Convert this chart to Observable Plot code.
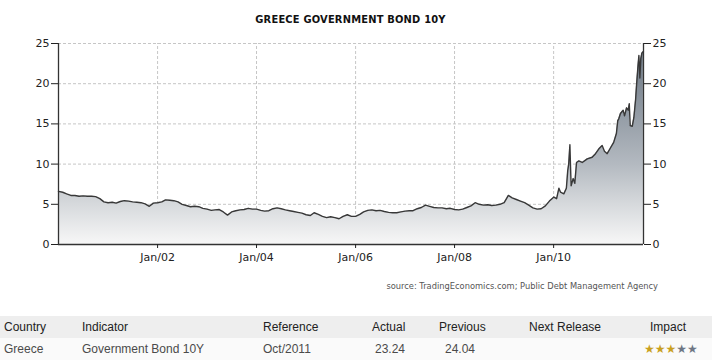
<!DOCTYPE html>
<html><head><meta charset="utf-8">
<script src="https://cdn.jsdelivr.net/npm/d3@7"></script>
<script src="https://cdn.jsdelivr.net/npm/@observablehq/plot@0.6"></script>
<style>
body{margin:0;background:#fff;}
#wrap{position:relative;width:712px;height:360px;overflow:hidden;background:#fff;}
#title{position:absolute;left:58px;width:585px;top:13px;height:13px;font:bold 11px "DejaVu Sans Condensed","DejaVu Sans",sans-serif;line-height:13px;text-align:center;color:#111;letter-spacing:0.2px;}
#chart{position:absolute;left:0;top:30px;}
#source{position:absolute;right:54px;top:279px;font:8.3px "DejaVu Sans",sans-serif;line-height:14px;color:#555;white-space:nowrap;}
.row{position:absolute;left:0;width:712px;height:22px;font:12px "Liberation Sans",Arial,sans-serif;line-height:22px;}
.row span{position:absolute;top:0;white-space:nowrap;}
.hdr{top:316px;background:#eeeeee;color:#222;}
.dat{top:338px;background:#fafafa;color:#4a4a4a;}
</style></head>
<body>
<div id="wrap">
  <div id="title"></div>
  <div id="chart"></div>
  <div id="source"></div>
  <div class="row hdr" id="hdr"></div>
  <div class="row dat" id="dat"></div>
</div>
<script>
// ---- data ----
const chartTitle = "GREECE GOVERNMENT BOND 10Y";
const sourceText = "source: TradingEconomics.com; Public Debt Management Agency";

const dates = [
  "2000-01-01","2000-02-01","2000-03-01","2000-04-01","2000-05-01","2000-06-01","2000-07-01","2000-08-01","2000-09-01","2000-10-01","2000-11-01","2000-12-01",
  "2001-01-01","2001-02-01","2001-03-01","2001-04-01","2001-05-01","2001-06-01","2001-07-01","2001-08-01","2001-09-01","2001-10-01","2001-11-01","2001-12-01",
  "2002-01-01","2002-02-01","2002-03-01","2002-04-01","2002-05-01","2002-06-01","2002-07-01","2002-08-01","2002-09-01","2002-10-01","2002-11-01","2002-12-01",
  "2003-01-01","2003-02-01","2003-03-01","2003-04-01","2003-05-01","2003-06-01","2003-07-01","2003-08-01","2003-09-01","2003-10-01","2003-11-01","2003-12-01",
  "2004-01-01","2004-02-01","2004-03-01","2004-04-01","2004-05-01","2004-06-01","2004-07-01","2004-08-01","2004-09-01","2004-10-01","2004-11-01","2004-12-01",
  "2005-01-01","2005-02-01","2005-03-01","2005-04-01","2005-05-01","2005-06-01","2005-07-01","2005-08-01","2005-09-01","2005-10-01","2005-11-01","2005-12-01",
  "2006-01-01","2006-02-01","2006-03-01","2006-04-01","2006-05-01","2006-06-01","2006-07-01","2006-08-01","2006-09-01","2006-10-01","2006-11-01","2006-12-01",
  "2007-01-01","2007-02-01","2007-03-01","2007-04-01","2007-05-01","2007-06-01","2007-07-01","2007-08-01","2007-09-01","2007-10-01","2007-11-01","2007-12-01",
  "2008-01-01","2008-02-01","2008-03-01","2008-04-01","2008-05-01","2008-06-01","2008-07-01","2008-08-01","2008-09-01","2008-10-01","2008-11-01","2008-12-01",
  "2009-01-01","2009-02-01","2009-03-01","2009-04-01","2009-05-01","2009-06-01","2009-07-01","2009-08-01","2009-09-01","2009-10-01","2009-11-01","2009-12-01",
  "2010-01-03","2010-01-23","2010-02-09","2010-02-21","2010-03-17","2010-04-05","2010-04-15","2010-04-22","2010-05-01","2010-05-06","2010-05-10","2010-05-25",
  "2010-06-06","2010-06-19","2010-07-06","2010-07-31","2010-09-06","2010-10-12","2010-11-06","2010-12-01","2010-12-25",
  "2011-01-11","2011-01-31","2011-02-24","2011-03-20","2011-04-09","2011-04-19","2011-04-26","2011-05-09","2011-05-29","2011-06-08","2011-06-23",
  "2011-07-05","2011-07-13","2011-07-20","2011-08-04","2011-08-16","2011-08-29","2011-09-05","2011-09-14","2011-09-22","2011-09-27","2011-09-29",
  "2011-10-06","2011-10-14","2011-10-25"
];
const yields = [
  6.6,6.5,6.3,6.1,6.1,6.0,6.05,6.0,6.0,5.95,5.7,5.3,
  5.2,5.25,5.15,5.35,5.45,5.4,5.3,5.25,5.2,5.05,4.75,5.15,
  5.2,5.3,5.55,5.5,5.45,5.3,5.0,4.85,4.7,4.75,4.7,4.5,
  4.4,4.25,4.3,4.35,4.05,3.65,4.05,4.2,4.3,4.35,4.5,4.4,
  4.4,4.25,4.15,4.2,4.45,4.55,4.45,4.3,4.2,4.1,4.0,3.9,
  3.7,3.6,3.95,3.75,3.5,3.35,3.45,3.35,3.2,3.5,3.7,3.5,
  3.5,3.75,4.05,4.25,4.3,4.2,4.25,4.1,4.0,3.95,3.95,4.05,
  4.15,4.2,4.2,4.45,4.6,4.9,4.75,4.6,4.55,4.55,4.45,4.5,
  4.35,4.3,4.4,4.6,4.8,5.2,5.0,4.9,4.95,4.85,4.9,5.0,
  5.2,6.1,5.8,5.6,5.4,5.2,4.9,4.55,4.4,4.45,4.8,5.4,
  5.9,5.7,7.0,6.5,6.3,7.0,9.2,10.0,12.4,9.5,7.3,8.2,
  7.6,10.2,10.4,10.2,10.65,10.85,11.3,11.9,12.3,
  11.6,11.3,12.0,12.7,13.8,15.4,15.6,16.3,16.7,16.0,17.0,
  16.7,17.5,14.8,14.7,15.8,18.1,19.9,21.9,23.5,21.9,20.7,
  23.1,23.8,24.0
];
const yTicks = [0,5,10,15,20,25];
const yGrid = [5,10,15,20,25];
const xTickDates = ["2002-01-01","2004-01-01","2006-01-01","2008-01-01","2010-01-01"];
const xTickLabels = ["Jan/02","Jan/04","Jan/06","Jan/08","Jan/10"];
const xDomain = ["2000-01-01","2011-10-26"];

const tableHeaders = ["Country","Indicator","Reference","Actual","Previous","Next Release","Impact"];
const tableRow = ["Greece","Government Bond 10Y","Oct/2011","23.24","24.04",""];
const impactStars = 3, totalStars = 5;

// ---- layout constants ----
const headerX = [4,82,263,372,439,529,650];
const rowX = [4,82,263,375,445,529,644];

// ---- build ----
const parse = d3.utcParse("%Y-%m-%d");
const data = dates.map((d,i)=>({date: parse(d), value: yields[i]}));
const ticks = xTickDates.map(parse);
const labelOf = new Map(ticks.map((t,i)=>[+t, xTickLabels[i]]));
const dom = xDomain.map(parse);

document.getElementById("title").textContent = chartTitle;
document.getElementById("source").textContent = sourceText;

const chart = Plot.plot({
  width: 712, height: 240,
  marginLeft: 58, marginRight: 69, marginTop: 13, marginBottom: 26,
  style: {fontFamily: "'DejaVu Sans', sans-serif", fontSize: "11px", color: "#222", background: "transparent", overflow: "visible"},
  x: {type: "utc", domain: dom},
  y: {domain: [0,25]},
  marks: [
    Plot.ruleY(yGrid, {stroke: "#c6c6c6", strokeDasharray: "3,2", strokeWidth: 1}),
    Plot.ruleX(ticks, {y1: 0, y2: 25, stroke: "#c6c6c6", strokeDasharray: "3,2", strokeWidth: 1}),
    Plot.areaY(data, {x: "date", y: "value", fill: "url(#bondFill)"}),
    Plot.lineY(data, {x: "date", y: "value", stroke: "#383838", strokeWidth: 1.4}),
    Plot.ruleY([0], {stroke: "#333", strokeWidth: 1.3}),
    Plot.ruleX(dom, {y1: 0, y2: 25, stroke: "#333", strokeWidth: 1.3}),
    Plot.axisY({anchor: "left", ticks: yTicks, tickSize: 7, tickPadding: 2, label: null}),
    Plot.axisY({anchor: "right", ticks: yTicks, tickSize: 7, tickPadding: 2, label: null}),
    Plot.axisX({ticks: ticks, tickFormat: d => labelOf.get(+d), tickSize: 4, tickPadding: 5, label: null})
  ]
});
const ys = chart.scale("y");
const ns = "http://www.w3.org/2000/svg";
const defs = document.createElementNS(ns, "defs");
defs.innerHTML = `<linearGradient id="bondFill" gradientUnits="userSpaceOnUse" x1="0" x2="0" y1="${ys.apply(25)}" y2="${ys.apply(0)}">
<stop offset="0" stop-color="#65717e"/><stop offset="0.6" stop-color="#b3b9c0"/><stop offset="0.8" stop-color="#d6d9dc"/><stop offset="1" stop-color="#f7f7f7"/></linearGradient>`;
chart.insertBefore(defs, chart.firstChild);
document.getElementById("chart").appendChild(chart);

const hdr = document.getElementById("hdr");
tableHeaders.forEach((t,i)=>{ const s=document.createElement("span"); s.textContent=t; s.style.left=headerX[i]+"px"; hdr.appendChild(s); });
const dat = document.getElementById("dat");
tableRow.forEach((t,i)=>{ const s=document.createElement("span"); s.textContent=t; s.style.left=rowX[i]+"px"; dat.appendChild(s); });
const st = document.createElement("span");
st.style.left = rowX[6]+"px";
st.style.font = "12px 'DejaVu Sans', sans-serif";
st.style.lineHeight = "22px";
for (let k=0;k<totalStars;k++){ const e=document.createElement("span"); e.style.position="static"; e.textContent="★"; e.style.color = k<impactStars ? "#c9a020" : "#6e7684"; st.appendChild(e); }
dat.appendChild(st);
</script>
</body></html>
